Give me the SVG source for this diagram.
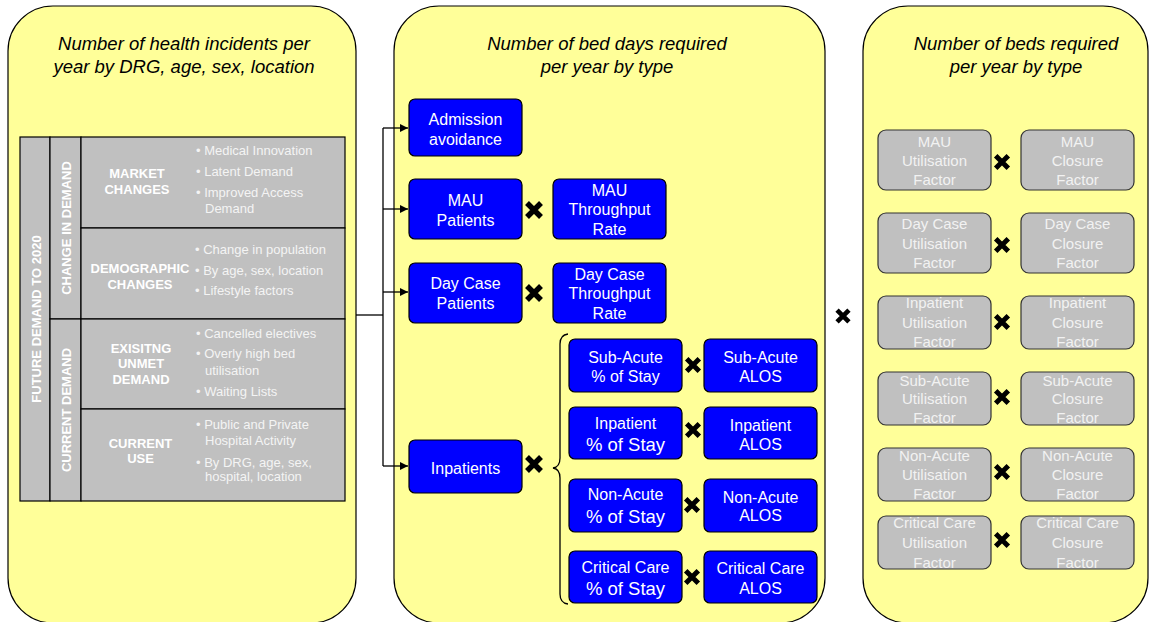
<svg xmlns="http://www.w3.org/2000/svg" width="1151" height="622" viewBox="0 0 1151 622">
<style>
.panel{fill:#ffff99;stroke:#000;stroke-width:1.2}
.title{font-family:"Liberation Sans",Arial,sans-serif;font-style:italic;font-size:18.5px;fill:#000;text-anchor:middle}
.cell{fill:#c0c0c0;stroke:#000;stroke-width:1.2}
.hdr{font-family:"Liberation Sans",Arial,sans-serif;font-weight:bold;font-size:13px;fill:#fff;text-anchor:middle}
.bul{font-family:"Liberation Sans",Arial,sans-serif;font-size:13px;fill:#f4f4f4}
.blue{fill:#0000ff;stroke:#000;stroke-width:1.2}
.bt{font-family:"Liberation Sans",Arial,sans-serif;font-size:16px;fill:#fff;text-anchor:middle}
.big{font-size:18.5px}
.gray{fill:#c0c0c0;stroke:#333;stroke-width:1.2}
.gt{font-family:"Liberation Sans",Arial,sans-serif;font-size:15px;fill:#f2f2f2;text-anchor:middle}
.conn{fill:none;stroke:#000;stroke-width:1.3}
</style>
<defs>
<marker id="arr" viewBox="0 0 8 8" refX="8" refY="4" markerWidth="8" markerHeight="8" markerUnits="userSpaceOnUse" orient="auto">
<path d="M0,0 L8,4 L0,8 Z" fill="#000"/>
</marker>
<g id="times"><path d="M-7,-7 L7,7 M7,-7 L-7,7" stroke="#000" stroke-width="5.5" fill="none"/></g>
<clipPath id="c-inp"><rect x="870" y="296" width="272" height="53"/></clipPath>
<clipPath id="c-sub"><rect x="870" y="372" width="272" height="53"/></clipPath>
<clipPath id="c-non"><rect x="870" y="448" width="272" height="53"/></clipPath>
<clipPath id="c-crit"><rect x="870" y="516" width="272" height="53"/></clipPath>
</defs>
<rect width="1151" height="622" fill="#fff"/>

<g id="panel-demand">
<rect class="panel" x="8" y="6" width="348" height="617" rx="45"/>
<text class="title" x="184" y="50">Number of health incidents per</text>
<text class="title" x="184" y="73">year by DRG, age, sex, location</text>
<g id="grid">
<rect class="cell" x="20" y="137" width="30" height="364"/>
<rect class="cell" x="50" y="137" width="31" height="182"/>
<rect class="cell" x="50" y="319" width="31" height="182"/>
<rect class="cell" x="81" y="137" width="264" height="91"/>
<rect class="cell" x="81" y="228" width="264" height="91"/>
<rect class="cell" x="81" y="319" width="264" height="90"/>
<rect class="cell" x="81" y="409" width="264" height="92"/>
<text class="hdr" transform="translate(40.5,319) rotate(-90)">FUTURE DEMAND TO 2020</text>
<text class="hdr" transform="translate(70.5,228) rotate(-90)">CHANGE IN DEMAND</text>
<text class="hdr" transform="translate(70.5,410) rotate(-90)">CURRENT DEMAND</text>
<text class="hdr" x="137" y="178">MARKET</text>
<text class="hdr" x="137" y="194">CHANGES</text>
<text class="hdr" x="140" y="273">DEMOGRAPHIC</text>
<text class="hdr" x="140" y="289">CHANGES</text>
<text class="hdr" x="141" y="352.5">EXISITNG</text>
<text class="hdr" x="141" y="368">UNMET</text>
<text class="hdr" x="141" y="384">DEMAND</text>
<text class="hdr" x="140.5" y="447.5">CURRENT</text>
<text class="hdr" x="140.5" y="463">USE</text>
<text class="bul" x="196" y="155">• Medical Innovation</text>
<text class="bul" x="196" y="176">• Latent Demand</text>
<text class="bul" x="196" y="197">• Improved Access</text>
<text class="bul" x="205" y="213">Demand</text>
<text class="bul" x="195" y="254">• Change in population</text>
<text class="bul" x="195" y="275">• By age, sex, location</text>
<text class="bul" x="195" y="295">• Lifestyle factors</text>
<text class="bul" x="196" y="337.5">• Cancelled electives</text>
<text class="bul" x="196" y="358">• Overly high bed</text>
<text class="bul" x="205" y="374.5">utilisation</text>
<text class="bul" x="196" y="395.5">• Waiting Lists</text>
<text class="bul" x="196" y="428.5">• Public and Private</text>
<text class="bul" x="205" y="444.5">Hospital Activity</text>
<text class="bul" x="196" y="466.5">• By DRG, age, sex,</text>
<text class="bul" x="205" y="481">hospital, location</text>
</g>
</g>

<g id="panel-beddays">
<rect class="panel" x="394" y="6" width="431" height="617" rx="45"/>
<text class="title" x="607" y="50">Number of bed days required</text>
<text class="title" x="607" y="73">per year by type</text>
</g>

<g id="panel-beds">
<rect class="panel" x="863" y="6" width="285" height="617" rx="45"/>
<text class="title" x="1016" y="50">Number of beds required</text>
<text class="title" x="1016" y="73">per year by type</text>
</g>

<g id="connectors">
<path class="conn" d="M356,315 H383"/>
<path class="conn" d="M383,128 V466"/>
<path class="conn" d="M383,128 H408" marker-end="url(#arr)"/>
<path class="conn" d="M383,209 H408" marker-end="url(#arr)"/>
<path class="conn" d="M383,292 H408" marker-end="url(#arr)"/>
<path class="conn" d="M383,466 H408" marker-end="url(#arr)"/>
<path class="conn" d="M568,334 Q560,335 560,344 V458 Q560,467 553,468 Q560,469 560,478 V594 Q560,603 568,604"/>
</g>

<g id="admission">
<rect class="blue" x="409" y="99" width="113" height="57" rx="6"/>
<text class="bt" x="465.5" y="124.5">Admission</text>
<text class="bt" x="465.5" y="144.5">avoidance</text>
</g>
<g id="mau-patients">
<rect class="blue" x="409" y="179" width="113" height="60" rx="6"/>
<text class="bt" x="465.5" y="205.5">MAU</text>
<text class="bt" x="465.5" y="225.5">Patients</text>
</g>
<g id="mau-throughput">
<rect class="blue" x="553" y="179" width="113" height="60" rx="6"/>
<text class="bt" x="609.5" y="195.5">MAU</text>
<text class="bt" x="609.5" y="215">Throughput</text>
<text class="bt" x="609.5" y="234.5">Rate</text>
</g>
<g id="daycase-patients">
<rect class="blue" x="409" y="263" width="113" height="60" rx="6"/>
<text class="bt" x="465.5" y="288.5">Day Case</text>
<text class="bt" x="465.5" y="308.5">Patients</text>
</g>
<g id="daycase-throughput">
<rect class="blue" x="553" y="263" width="113" height="60" rx="6"/>
<text class="bt" x="609.5" y="279.5">Day Case</text>
<text class="bt" x="609.5" y="299">Throughput</text>
<text class="bt" x="609.5" y="318.5">Rate</text>
</g>
<g id="inpatients">
<rect class="blue" x="409" y="440" width="113" height="53" rx="6"/>
<text class="bt" x="465.5" y="473.5">Inpatients</text>
</g>
<g id="subacute-stay">
<rect class="blue" x="569" y="339" width="113" height="53" rx="6"/>
<text class="bt" x="625.5" y="362.5">Sub-Acute</text>
<text class="bt" x="625.5" y="381.5">% of Stay</text>
</g>
<g id="subacute-alos">
<rect class="blue" x="704" y="339" width="113" height="53" rx="6"/>
<text class="bt" x="760.5" y="362.5">Sub-Acute</text>
<text class="bt" x="760.5" y="381.5">ALOS</text>
</g>
<g id="inpatient-stay">
<rect class="blue" x="569" y="407" width="113" height="52" rx="6"/>
<text class="bt" x="625.5" y="428.5">Inpatient</text>
<text class="bt big" x="625.5" y="450.5">% of Stay</text>
</g>
<g id="inpatient-alos">
<rect class="blue" x="704" y="407" width="113" height="52" rx="6"/>
<text class="bt" x="760.5" y="430.5">Inpatient</text>
<text class="bt" x="760.5" y="449.5">ALOS</text>
</g>
<g id="nonacute-stay">
<rect class="blue" x="569" y="479" width="113" height="53" rx="6"/>
<text class="bt" x="625.5" y="499.5">Non-Acute</text>
<text class="bt big" x="625.5" y="522.5">% of Stay</text>
</g>
<g id="nonacute-alos">
<rect class="blue" x="704" y="479" width="113" height="53" rx="6"/>
<text class="bt" x="760.5" y="502.5">Non-Acute</text>
<text class="bt" x="760.5" y="520.5">ALOS</text>
</g>
<g id="critical-stay">
<rect class="blue" x="569" y="551" width="113" height="52" rx="6"/>
<text class="bt" x="625.5" y="572.5">Critical Care</text>
<text class="bt big" x="625.5" y="594.5">% of Stay</text>
</g>
<g id="critical-alos">
<rect class="blue" x="704" y="551" width="113" height="52" rx="6"/>
<text class="bt" x="760.5" y="573.5">Critical Care</text>
<text class="bt" x="760.5" y="593.5">ALOS</text>
</g>

<g id="mau-util"><rect class="gray" x="878" y="130" width="113" height="60" rx="8"/>
<text class="gt" x="934.5" y="147">MAU</text><text class="gt" x="934.5" y="166">Utilisation</text><text class="gt" x="934.5" y="185">Factor</text></g>
<g id="mau-closure"><rect class="gray" x="1021" y="130" width="113" height="60" rx="8"/>
<text class="gt" x="1077.5" y="147">MAU</text><text class="gt" x="1077.5" y="166">Closure</text><text class="gt" x="1077.5" y="185">Factor</text></g>
<g id="daycase-util"><rect class="gray" x="878" y="213" width="113" height="60" rx="8"/>
<text class="gt" x="934.5" y="229">Day Case</text><text class="gt" x="934.5" y="249">Utilisation</text><text class="gt" x="934.5" y="268">Factor</text></g>
<g id="daycase-closure"><rect class="gray" x="1021" y="213" width="113" height="60" rx="8"/>
<text class="gt" x="1077.5" y="229">Day Case</text><text class="gt" x="1077.5" y="249">Closure</text><text class="gt" x="1077.5" y="268">Factor</text></g>
<g id="inpatient-util"><rect class="gray" x="878" y="296" width="113" height="53" rx="8"/>
<g clip-path="url(#c-inp)"><text class="gt" x="934.5" y="308">Inpatient</text><text class="gt" x="934.5" y="328">Utilisation</text><text class="gt" x="934.5" y="347">Factor</text></g></g>
<g id="inpatient-closure"><rect class="gray" x="1021" y="296" width="113" height="53" rx="8"/>
<g clip-path="url(#c-inp)"><text class="gt" x="1077.5" y="308">Inpatient</text><text class="gt" x="1077.5" y="328">Closure</text><text class="gt" x="1077.5" y="347">Factor</text></g></g>
<g id="subacute-util"><rect class="gray" x="878" y="372" width="113" height="53" rx="8"/>
<g clip-path="url(#c-sub)"><text class="gt" x="934.5" y="386">Sub-Acute</text><text class="gt" x="934.5" y="404">Utilisation</text><text class="gt" x="934.5" y="423">Factor</text></g></g>
<g id="subacute-closure"><rect class="gray" x="1021" y="372" width="113" height="53" rx="8"/>
<g clip-path="url(#c-sub)"><text class="gt" x="1077.5" y="386">Sub-Acute</text><text class="gt" x="1077.5" y="404">Closure</text><text class="gt" x="1077.5" y="423">Factor</text></g></g>
<g id="nonacute-util"><rect class="gray" x="878" y="448" width="113" height="53" rx="8"/>
<g clip-path="url(#c-non)"><text class="gt" x="934.5" y="461">Non-Acute</text><text class="gt" x="934.5" y="480">Utilisation</text><text class="gt" x="934.5" y="499">Factor</text></g></g>
<g id="nonacute-closure"><rect class="gray" x="1021" y="448" width="113" height="53" rx="8"/>
<g clip-path="url(#c-non)"><text class="gt" x="1077.5" y="461">Non-Acute</text><text class="gt" x="1077.5" y="480">Closure</text><text class="gt" x="1077.5" y="499">Factor</text></g></g>
<g id="critical-util"><rect class="gray" x="878" y="516" width="113" height="53" rx="8"/>
<g clip-path="url(#c-crit)"><text class="gt" x="934.5" y="528">Critical Care</text><text class="gt" x="934.5" y="548">Utilisation</text><text class="gt" x="934.5" y="568">Factor</text></g></g>
<g id="critical-closure"><rect class="gray" x="1021" y="516" width="113" height="53" rx="8"/>
<g clip-path="url(#c-crit)"><text class="gt" x="1077.5" y="528">Critical Care</text><text class="gt" x="1077.5" y="548">Closure</text><text class="gt" x="1077.5" y="568">Factor</text></g></g>

<g id="operators">
<use href="#times" x="534" y="210"/>
<use href="#times" x="534" y="293"/>
<use href="#times" x="534" y="464"/>
<use href="#times" transform="translate(693,365) scale(0.9)"/>
<use href="#times" transform="translate(693,430) scale(0.9)"/>
<use href="#times" transform="translate(692,505) scale(0.9)"/>
<use href="#times" transform="translate(692,577) scale(0.9)"/>
<use href="#times" transform="translate(843,316) scale(0.85)"/>
<use href="#times" transform="translate(1002,162) scale(0.9)"/>
<use href="#times" transform="translate(1002,245) scale(0.9)"/>
<use href="#times" transform="translate(1002,322) scale(0.9)"/>
<use href="#times" transform="translate(1002,397) scale(0.9)"/>
<use href="#times" transform="translate(1002,472) scale(0.9)"/>
<use href="#times" transform="translate(1002,540) scale(0.9)"/>
</g>
</svg>
